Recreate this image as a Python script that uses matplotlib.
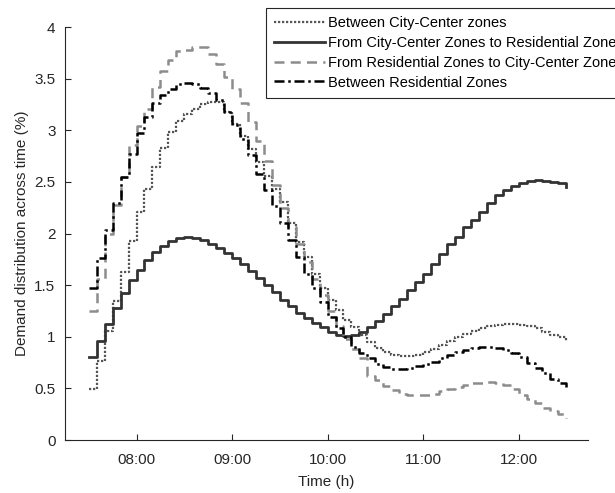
import numpy as np
import matplotlib

matplotlib.use("Agg")
import matplotlib.pyplot as plt

plt.rcParams["font.family"] = ["Liberation Sans", "DejaVu Sans"]

# 5-minute steps from 07:30 to 12:30 (hours as decimals)
start_hour = 7.5
n_steps = 61

between_cc = [
    0.49, 0.77, 1.06, 1.35, 1.63, 1.93, 2.21, 2.43, 2.64, 2.83,
    2.98, 3.09, 3.16, 3.21, 3.25, 3.27, 3.27, 3.18, 3.06, 2.94,
    2.82, 2.69, 2.56, 2.43, 2.31, 2.10, 1.92, 1.77, 1.61, 1.47,
    1.36, 1.26, 1.16, 1.09, 1.02, 0.95, 0.89, 0.85, 0.82, 0.81,
    0.81, 0.82, 0.85, 0.88, 0.92, 0.96, 1.00, 1.03, 1.06, 1.08,
    1.10, 1.11, 1.12, 1.12, 1.11, 1.10, 1.08, 1.05, 1.02, 1.00,
    0.96,
]
cc_to_res = [
    0.80, 0.96, 1.12, 1.28, 1.42, 1.55, 1.65, 1.74, 1.82, 1.88,
    1.93, 1.96, 1.97, 1.96, 1.94, 1.90, 1.86, 1.81, 1.76, 1.70,
    1.64, 1.57, 1.50, 1.43, 1.36, 1.30, 1.23, 1.18, 1.13, 1.09,
    1.05, 1.02, 1.01, 1.02, 1.05, 1.09, 1.15, 1.22, 1.30, 1.37,
    1.45, 1.53, 1.61, 1.70, 1.80, 1.90, 1.97, 2.06, 2.13, 2.21,
    2.30, 2.37, 2.42, 2.46, 2.49, 2.51, 2.52, 2.51, 2.50, 2.49,
    2.45,
]
res_to_cc = [
    1.25, 1.56, 2.00, 2.28, 2.55, 2.86, 3.04, 3.21, 3.42, 3.57,
    3.68, 3.77, 3.78, 3.81, 3.81, 3.74, 3.64, 3.52, 3.40, 3.26,
    3.08, 2.90, 2.70, 2.47, 2.25, 2.06, 1.90, 1.72, 1.56, 1.40,
    1.25, 1.10, 0.98, 0.88, 0.79, 0.62, 0.58, 0.52, 0.48, 0.45,
    0.44, 0.44, 0.44, 0.45, 0.47, 0.49, 0.51, 0.53, 0.55, 0.55,
    0.56, 0.55, 0.53, 0.49, 0.44, 0.40, 0.36, 0.31, 0.28, 0.25,
    0.21,
]
between_res = [
    1.47, 1.76, 2.03, 2.30, 2.55, 2.77, 2.97, 3.13, 3.26, 3.34,
    3.40, 3.45, 3.46, 3.45, 3.41, 3.36, 3.29, 3.18, 3.05, 2.92,
    2.76, 2.58, 2.42, 2.27, 2.10, 1.94, 1.77, 1.61, 1.47, 1.34,
    1.19, 1.08, 1.00, 0.90, 0.84, 0.79, 0.74, 0.71, 0.69, 0.69,
    0.70, 0.72, 0.74, 0.76, 0.79, 0.82, 0.85, 0.87, 0.89, 0.90,
    0.90, 0.89, 0.87, 0.84, 0.80, 0.75, 0.70, 0.65, 0.59, 0.55,
    0.49,
]

labels = [
    "Between City-Center zones",
    "From City-Center Zones to Residential Zones",
    "From Residential Zones to City-Center Zones",
    "Between Residential Zones",
]
tick_hours = [8, 9, 10, 11, 12]
tick_labels = ["08:00", "09:00", "10:00", "11:00", "12:00"]

hours = start_hour + np.arange(n_steps) / 12.0

axis_color = "#262626"

fig = plt.figure(figsize=(6.15, 4.93), dpi=100)
ax = fig.add_axes([0.106, 0.1075, 0.850, 0.8377])

styles = [
    dict(color="#555555", linestyle=(0, (1, 0.8)), linewidth=1.6),
    dict(color="#333333", linestyle="-", linewidth=2.0),
    dict(color="#8c8c8c", linestyle=(0, (4, 2.5)), linewidth=1.8),
    dict(color="#000000", linestyle=(0, (4, 1.5, 1, 1.5)), linewidth=1.8),
]
series = [between_cc, cc_to_res, res_to_cc, between_res]

for values, style, label in zip(series, styles, labels):
    ax.step(hours, values, where="post", label=label, **style)

ax.set_xlim(7.253, 12.726)
ax.set_ylim(0, 4)
ax.set_xticks(tick_hours)
ax.set_xticklabels(tick_labels)
ax.set_yticks([0, 0.5, 1, 1.5, 2, 2.5, 3, 3.5, 4])
ax.set_yticklabels(["0", "0.5", "1", "1.5", "2", "2.5", "3", "3.5", "4"])

ax.spines["top"].set_visible(False)
ax.spines["right"].set_visible(False)
for side in ["left", "bottom"]:
    ax.spines[side].set_color(axis_color)
    ax.spines[side].set_linewidth(0.8)
ax.tick_params(direction="in", length=4, width=0.8, colors=axis_color,
               labelsize=11)
ax.tick_params(axis="x", pad=9)
ax.tick_params(axis="y", pad=7)

ax.set_xlabel("Time (h)", fontsize=11, color=axis_color, labelpad=6)
ax.set_ylabel("Demand distribution across time (%)", fontsize=11,
              color=axis_color, labelpad=4)

leg = ax.legend(
    loc="upper left",
    bbox_to_anchor=(266 / 615, 1 - 8 / 493),
    bbox_transform=fig.transFigure,
    fontsize=10.5,
    frameon=True,
    fancybox=False,
    framealpha=1,
    edgecolor="#262626",
    handlelength=3.5,
    handletextpad=0.2,
    labelspacing=0.4,
    borderpad=0.55,
    borderaxespad=0,
)
leg.get_frame().set_linewidth(0.8)

fig.savefig("out.png", dpi=100)
